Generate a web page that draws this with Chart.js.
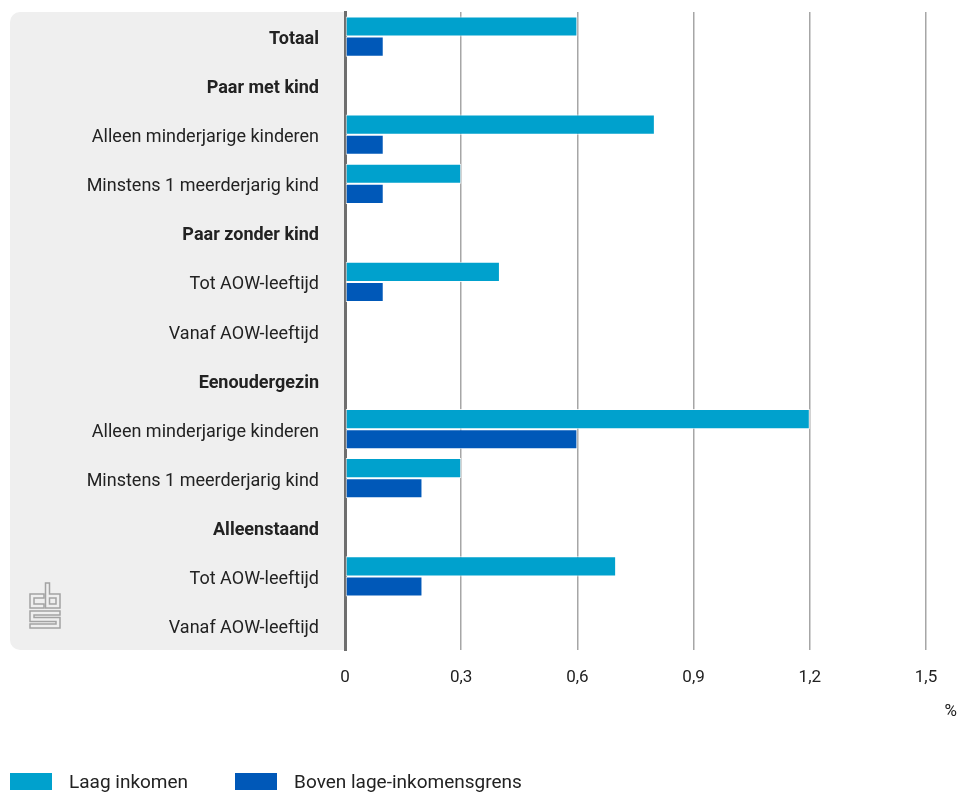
<!DOCTYPE html>
<html>
<head>
<meta charset="utf-8">
<script src="https://cdn.jsdelivr.net/npm/chart.js@4/dist/chart.umd.min.js"></script>
<style>
  html, body { margin: 0; padding: 0; background: #fff; }
  #wrap { position: relative; width: 959px; height: 794px; font-family: Roboto, sans-serif; }
  #chart { position: absolute; left: 0; top: 0; }
  .legend { position: absolute; top: 772px; left: 10px; display: flex; align-items: center; font-size: 19px; color: #222; line-height: 19px; }
  .legend-item { display: flex; align-items: center; margin-right: 47px; }
  .legend-box { width: 42px; height: 17px; margin-right: 17px; }
</style>
</head>
<body>
<div id="wrap">
  <canvas id="chart" width="959" height="794"></canvas>
  <div class="legend">
    <div class="legend-item"><span class="legend-box" style="background:#00a1cd"></span><span>Laag inkomen</span></div>
    <div class="legend-item"><span class="legend-box" style="background:#0058b8"></span><span>Boven lage-inkomensgrens</span></div>
  </div>
</div>
<script>
// ── Données ──
var categories = [
  'Totaal',
  'Paar met kind',
  'Alleen minderjarige kinderen',
  'Minstens 1 meerderjarig kind',
  'Paar zonder kind',
  'Tot AOW-leeftijd',
  'Vanaf AOW-leeftijd',
  'Eenoudergezin',
  'Alleen minderjarige kinderen',
  'Minstens 1 meerderjarig kind',
  'Alleenstaand',
  'Tot AOW-leeftijd',
  'Vanaf AOW-leeftijd'
];
var boldRows = [0, 1, 4, 7, 10];
var laagInkomen = [0.6, null, 0.8, 0.3, null, 0.4, null, null, 1.2, 0.3, null, 0.7, null];
var bovenGrens  = [0.1, null, 0.1, 0.1, null, 0.1, null, null, 0.6, 0.2, null, 0.2, null];
var xTicks = [0, 0.3, 0.6, 0.9, 1.2, 1.5];

var COLORS = {
  light: '#00a1cd',
  dark:  '#0058b8',
  panel: '#efefef',
  grid:  '#a6a6a6',
  axis:  '#6e6e6e',
  text:  '#222222'
};

var FONT = 'Roboto, sans-serif';

// grijs paneel achter de labels + cbs logo + % label
var panelPlugin = {
  id: 'panel',
  beforeDraw: function(chart) {
    var ctx = chart.ctx, a = chart.chartArea;
    ctx.save();
    ctx.fillStyle = COLORS.panel;
    ctx.beginPath();
    ctx.roundRect(10, a.top, a.left - 10, a.bottom - a.top, [10, 0, 0, 10]);
    ctx.fill();

    // logo (c, b, s) als dubbele lijn
    var ox = 29, oy = 582;
    var paths = [
      [[13, 14], [3, 14], [3, 24], [13, 24]],
      [[18.5, 3], [18.5, 24], [29, 24], [29, 14], [18.5, 14]],
      [[29, 31], [3, 31], [3, 37.5], [29, 37.5], [29, 44], [3, 44]]
    ];
    [[5.5, '#a3a3a3'], [2.5, COLORS.panel]].forEach(function(s) {
      ctx.lineWidth = s[0];
      ctx.strokeStyle = s[1];
      ctx.lineJoin = 'miter';
      ctx.lineCap = 'square';
      paths.forEach(function(p) {
        ctx.beginPath();
        p.forEach(function(pt, i) {
          if (i === 0) ctx.moveTo(ox + pt[0], oy + pt[1]);
          else ctx.lineTo(ox + pt[0], oy + pt[1]);
        });
        ctx.stroke();
      });
    });
    ctx.restore();
  },
  afterDraw: function(chart) {
    var ctx = chart.ctx;
    ctx.save();
    ctx.fillStyle = COLORS.text;
    ctx.font = '17px ' + FONT;
    ctx.textAlign = 'right';
    ctx.textBaseline = 'middle';
    ctx.fillText('%', 957, 712);
    ctx.restore();
  }
};

new Chart(document.getElementById('chart'), {
  type: 'bar',
  data: {
    labels: categories,
    datasets: [{
      label: 'Laag inkomen',
      data: laagInkomen,
      backgroundColor: COLORS.light,
      borderColor: 'rgba(255,255,255,0.85)',
      borderWidth: 1,
      borderSkipped: false,
      categoryPercentage: 0.82,
      barPercentage: 1
    }, {
      label: 'Boven lage-inkomensgrens',
      data: bovenGrens,
      backgroundColor: COLORS.dark,
      borderColor: 'rgba(255,255,255,0.85)',
      borderWidth: 1,
      borderSkipped: false,
      categoryPercentage: 0.82,
      barPercentage: 1
    }]
  },
  options: {
    indexAxis: 'y',
    responsive: false,
    animation: false,
    layout: { padding: { top: 12, right: 33, bottom: 100, left: 0 } },
    plugins: {
      legend: { display: false },
      tooltip: { enabled: false }
    },
    scales: {
      x: {
        min: 0,
        max: 1.5,
        afterBuildTicks: function(scale) {
          scale.ticks = xTicks.map(function(v) { return { value: v }; });
        },
        afterFit: function(scale) {
          scale.height = 44;
          scale.paddingLeft = 0;
          scale.paddingRight = 0;
        },
        ticks: {
          color: COLORS.text,
          padding: 18,
          font: { family: FONT, size: 17 },
          callback: function(v) { return v === 0 ? '0' : v.toFixed(1).replace('.', ','); }
        },
        grid: { color: COLORS.grid, lineWidth: 1.5, drawTicks: false },
        border: { display: false }
      },
      y: {
        afterFit: function(scale) {
          scale.width = 345;
          scale.paddingTop = 0;
          scale.paddingBottom = 0;
        },
        ticks: {
          color: COLORS.text,
          padding: 26,
          labelOffset: 3,
          autoSkip: false,
          font: function(c) {
            var bold = boldRows.indexOf(c.index) !== -1;
            return { family: FONT, size: 18, weight: bold ? 'bold' : 'normal' };
          }
        },
        grid: { display: false, drawTicks: false },
        border: { display: true, color: COLORS.axis, width: 3 }
      }
    }
  },
  plugins: [panelPlugin]
});
</script>
</body>
</html>
